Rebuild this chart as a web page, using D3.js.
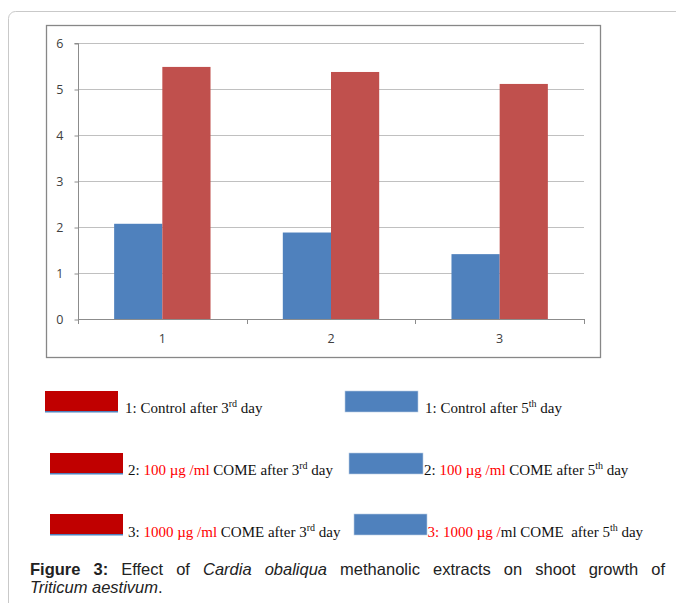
<!DOCTYPE html>
<html><head><meta charset="utf-8">
<script src="https://cdn.jsdelivr.net/npm/d3@7"></script>
<style>body{margin:0;background:#fff}svg{display:block}</style>
</head><body>
<svg id="c" width="676" height="603"></svg>
<script>
const categories = ["1", "2", "3"];
const blueValues = [2.07, 1.88, 1.41];
const redValues = [5.48, 5.37, 5.11];
const yTicks = [0, 1, 2, 3, 4, 5, 6];

const legendLeft = [
  [{t:"1: Control after 3"},{t:"rd",sup:true},{t:" day"}],
  [{t:"2: "},{t:"100 µg /ml",red:true},{t:" COME after 3"},{t:"rd",sup:true},{t:" day"}],
  [{t:"3: "},{t:"1000 µg /ml",red:true},{t:" COME after 3"},{t:"rd",sup:true},{t:" day"}]
];
const legendRight = [
  [{t:"1: Control after 5"},{t:"th",sup:true},{t:" day"}],
  [{t:"2: "},{t:"100 µg /ml",red:true},{t:" COME after 5"},{t:"th",sup:true},{t:" day"}],
  [{t:"3: 1000 µg /",red:true},{t:"ml COME\u00a0 after 5"},{t:"th",sup:true},{t:" day"}]
];
const captionLine1 = [
  {t:"Figure", b:true}, {t:"3:", b:true}, {t:"Effect"}, {t:"of"}, {t:"Cardia", i:true}, {t:"obaliqua", i:true},
  {t:"methanolic"}, {t:"extracts"}, {t:"on"}, {t:"shoot"}, {t:"growth"}, {t:"of"}
];

const svg = d3.select("#c");
// outer card
svg.append("rect").attr("x",8.5).attr("y",11.5).attr("width",720).attr("height",700)
  .attr("rx",7).attr("fill","none").attr("stroke","#c9c9c9").attr("stroke-width",1);

// chart frame
svg.append("rect").attr("x",46.5).attr("y",25.5).attr("width",554).attr("height",332)
  .attr("fill","#fff").attr("stroke","#878787").attr("stroke-width",1.3);

const x0 = 78, x1 = 584, yTop = 43, yBot = 319;
const x = d3.scaleBand().domain(categories).range([x0, x1]).paddingInner(0).paddingOuter(0);
const y = d3.scaleLinear().domain([0, 6]).range([yBot, yTop]);
const bw = x.bandwidth() / 3.5;

// gridlines
svg.append("g").selectAll("line").data(yTicks.filter(d => d > 0)).join("line")
  .attr("x1", x0).attr("x2", x1).attr("y1", d => Math.round(y(d)) + 0.5).attr("y2", d => Math.round(y(d)) + 0.5)
  .attr("stroke", "#c0c0c0").attr("stroke-width", 1);

// bars
const g = svg.append("g");
g.selectAll(".b").data(blueValues).join("rect")
  .attr("x", (d, i) => x(categories[i]) + x.bandwidth() / 2 - bw)
  .attr("y", d => y(d)).attr("width", bw).attr("height", d => y(0) - y(d))
  .attr("fill", "#4F81BD");
g.selectAll(".r").data(redValues).join("rect")
  .attr("x", (d, i) => x(categories[i]) + x.bandwidth() / 2)
  .attr("y", d => y(d)).attr("width", bw).attr("height", d => y(0) - y(d))
  .attr("fill", "#C0504D");

// y axis
const yAxis = d3.axisLeft(y).tickValues(yTicks).tickSize(4).tickPadding(11).tickFormat(d3.format("d"));
const ya = svg.append("g").attr("transform", `translate(${x0 + 0.5},0.5)`).call(yAxis);
ya.select(".domain").attr("stroke", "#8c8c8c").attr("d", `M-4,${yTop}H0V${yBot}`);
ya.selectAll(".tick line").attr("stroke", "#8c8c8c");
ya.selectAll("text").attr("font-family", "'Open Sans', sans-serif").attr("font-size", 12.5).attr("fill", "#404040");

// x axis
const xa = svg.append("g").attr("transform", `translate(0,${yBot + 0.5})`)
  .call(d3.axisBottom(x).tickSize(0).tickPadding(15));
xa.select(".domain").attr("stroke", "#8c8c8c").attr("d", `M${x0},0H${x1}`);
xa.selectAll("text").attr("font-family", "'Open Sans', sans-serif").attr("font-size", 12.5).attr("fill", "#404040");
svg.append("g").selectAll("line").data(d3.range(categories.length + 1)).join("line")
  .attr("x1", i => Math.round(x0 + i * x.step()) + 0.5).attr("x2", i => Math.round(x0 + i * x.step()) + 0.5)
  .attr("y1", yBot).attr("y2", yBot + 5).attr("stroke", "#8c8c8c");

// legend
function legendItem(parts, bx, by, bwid, tx, ty, fill, underline) {
  svg.append("rect").attr("x", bx).attr("y", by).attr("width", bwid).attr("height", 21)
    .attr("fill", fill).attr("stroke", underline ? "none" : "#b8cce4").attr("stroke-width", 0.6);
  if (underline) svg.append("rect").attr("x", bx).attr("y", by + 20).attr("width", bwid).attr("height", 1.5).attr("fill", "#4F81BD");
  const t = svg.append("text").attr("x", tx).attr("y", ty)
    .attr("font-family", "'Liberation Serif', 'Times New Roman', serif").attr("font-size", 15).attr("fill", "#111");
  parts.forEach((p, i) => {
    const s = t.append("tspan").text(p.t).attr("fill", p.red ? "#FF0000" : "#111");
    if (p.sup) s.attr("font-size", 10).attr("dy", -6);
    else if (i > 0 && parts[i - 1].sup) s.attr("dy", 6);
  });
}
const leftBoxes = [[45, 391, 73, 125, 413], [50, 453, 73, 128, 475], [50, 514, 73, 128, 537]];
const rightBoxes = [[345, 391, 73, 425, 413], [349, 453, 74, 424, 475], [354, 514, 73, 427.5, 537]];
legendLeft.forEach((p, i) => { const b = leftBoxes[i]; legendItem(p, b[0], b[1], b[2], b[3], b[4], "#C00000", true); });
legendRight.forEach((p, i) => { const b = rightBoxes[i]; legendItem(p, b[0], b[1], b[2], b[3], b[4], "#4F81BD", false); });

// caption (justified line 1)
const capFont = "'Liberation Sans', Arial, sans-serif", capSize = 16.5;
const words = svg.append("g").selectAll("text").data(captionLine1).join("text")
  .attr("y", 575).attr("font-family", capFont).attr("font-size", capSize).attr("fill", "#222")
  .attr("font-weight", d => d.b ? "bold" : null).attr("font-style", d => d.i ? "italic" : null)
  .text(d => d.t);
const widths = words.nodes().map(n => n.getComputedTextLength());
const total = d3.sum(widths);
const gap = (665 - 30 - total) / (captionLine1.length - 1);
let cx = 30;
words.each(function(d, i) { d3.select(this).attr("x", cx); cx += widths[i] + gap; });

const cap2 = svg.append("text").attr("x", 30).attr("y", 593)
  .attr("font-family", capFont).attr("font-size", capSize).attr("fill", "#222");
cap2.append("tspan").attr("font-style", "italic").text("Triticum aestivum");
cap2.append("tspan").text(".");
</script>
</body></html>
